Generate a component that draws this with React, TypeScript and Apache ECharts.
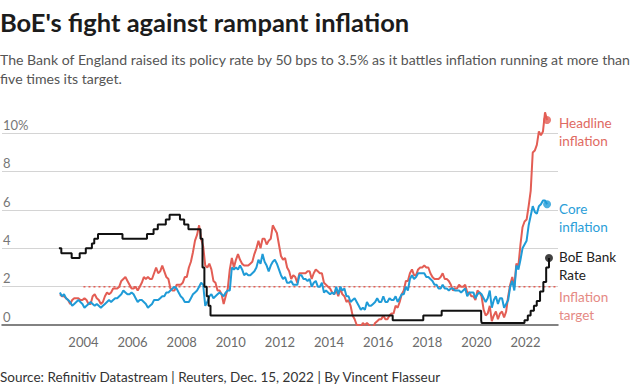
import React, { useEffect, useRef } from 'react';
import * as echarts from 'echarts';

// ---------- data ----------
const START_YEAR = 2003; // first monthly observation: Jan 2003

// Headline CPI inflation, % y/y, monthly Jan 2003 – Nov 2022
const headline = [
  1.6, 1.5, 1.5, 1.4, 1.3, 1.1, 1.3, 1.4, 1.4, 1.4, 1.3, 1.3,
  1.4, 1.3, 1.1, 1.1, 1.5, 1.6, 1.4, 1.3, 1.1, 1.2, 1.5, 1.7,
  1.6, 1.7, 1.9, 1.9, 1.9, 2.0, 2.3, 2.4, 2.5, 2.3, 2.1, 1.9,
  1.9, 2.0, 1.8, 2.0, 2.2, 2.5, 2.4, 2.5, 2.4, 2.4, 2.7, 3.0,
  2.7, 2.8, 3.1, 2.8, 2.5, 2.4, 1.9, 1.8, 1.8, 2.1, 2.1, 2.1,
  2.2, 2.5, 2.5, 3.0, 3.3, 3.8, 4.4, 4.7, 5.2, 4.5, 4.1, 3.1,
  3.0, 3.2, 2.9, 2.3, 2.2, 1.8, 1.8, 1.6, 1.1, 1.5, 1.9, 2.9,
  3.5, 3.0, 3.4, 3.7, 3.4, 3.2, 3.1, 3.1, 3.1, 3.2, 3.3, 3.7,
  4.0, 4.4, 4.0, 4.5, 4.5, 4.2, 4.4, 4.5, 5.2, 5.0, 4.8, 4.2,
  3.6, 3.4, 3.5, 3.0, 2.8, 2.4, 2.6, 2.5, 2.2, 2.7, 2.7, 2.7,
  2.7, 2.8, 2.8, 2.4, 2.7, 2.9, 2.8, 2.7, 2.7, 2.2, 2.1, 2.0,
  1.9, 1.7, 1.6, 1.8, 1.5, 1.9, 1.6, 1.5, 1.2, 1.3, 1.0, 0.5,
  0.3, 0.0, 0.0, -0.1, 0.1, 0.0, 0.1, 0.0, -0.1, -0.1, 0.1, 0.2,
  0.3, 0.3, 0.5, 0.3, 0.3, 0.5, 0.6, 0.6, 1.0, 0.9, 1.2, 1.6,
  1.8, 2.3, 2.3, 2.7, 2.9, 2.6, 2.6, 2.9, 3.0, 3.0, 3.1, 3.0,
  3.0, 2.7, 2.5, 2.4, 2.4, 2.4, 2.5, 2.7, 2.4, 2.4, 2.3, 2.1,
  1.8, 1.9, 1.9, 2.1, 2.0, 2.0, 2.1, 1.7, 1.7, 1.5, 1.5, 1.3,
  1.8, 1.7, 1.5, 0.8, 0.5, 0.6, 1.0, 0.2, 0.5, 0.7, 0.3, 0.6,
  0.7, 0.4, 0.7, 1.5, 2.1, 2.5, 2.0, 3.2, 3.1, 4.2, 5.1, 5.4,
  5.5, 6.2, 7.0, 9.0, 9.1, 9.4, 10.1, 9.9, 10.1, 11.1, 10.7,
];

// Core CPI inflation, % y/y, monthly Jan 2003 – Nov 2022
const core = [
  1.7, 1.5, 1.6, 1.4, 1.3, 1.2, 1.0, 1.1, 1.2, 1.3, 1.2, 1.1,
  0.9, 1.0, 1.1, 1.2, 1.1, 1.0, 1.1, 1.0, 0.9, 1.0, 1.1, 1.2,
  1.3, 1.2, 1.3, 1.4, 1.4, 1.5, 1.6, 1.8, 1.7, 1.6, 1.6, 1.7,
  1.6, 1.4, 1.2, 1.3, 1.3, 1.2, 1.1, 0.9, 1.0, 1.1, 1.3, 1.3,
  1.3, 1.4, 1.5, 1.5, 1.7, 1.7, 1.8, 1.9, 2.0, 1.9, 1.7, 1.5,
  1.4, 1.2, 1.2, 1.2, 1.4, 1.6, 1.7, 1.8, 2.0, 2.2, 2.1, 1.0,
  1.2, 1.5, 1.6, 1.4, 1.5, 1.6, 1.7, 1.6, 1.5, 1.7, 1.8, 1.8,
  3.0, 2.9, 3.0, 2.9, 3.1, 2.9, 2.6, 2.7, 2.6, 2.6, 2.7, 2.8,
  3.0, 3.4, 3.2, 3.7, 3.3, 3.1, 2.8, 3.1, 3.3, 3.4, 3.2, 2.9,
  2.6, 2.4, 2.5, 2.2, 2.2, 2.3, 2.1, 2.1, 2.1, 2.6, 2.6, 2.4,
  2.4, 2.3, 2.4, 2.0, 2.2, 2.3, 2.0, 2.0, 2.2, 1.7, 1.8, 1.7,
  1.6, 1.7, 1.6, 2.0, 1.6, 2.0, 1.8, 1.9, 1.5, 1.5, 1.2, 1.3,
  1.4, 1.2, 1.0, 0.8, 0.9, 0.8, 1.2, 1.0, 1.0, 1.1, 1.2, 1.4,
  1.2, 1.2, 1.5, 1.2, 1.2, 1.4, 1.3, 1.3, 1.5, 1.2, 1.4, 1.6,
  1.6, 2.0, 1.8, 2.4, 2.6, 2.4, 2.5, 2.7, 2.7, 2.7, 2.7, 2.5,
  2.5, 2.4, 2.3, 2.1, 2.1, 1.9, 1.9, 2.1, 1.9, 1.9, 1.8, 1.9,
  1.9, 1.8, 1.8, 1.8, 1.7, 1.8, 1.9, 1.5, 1.7, 1.7, 1.7, 1.4,
  1.6, 1.7, 1.6, 1.4, 1.2, 1.4, 1.8, 0.9, 1.3, 1.5, 1.1, 1.4,
  1.4, 0.9, 1.1, 1.3, 2.0, 2.3, 1.8, 3.1, 2.9, 3.4, 4.0, 4.2,
  4.4, 5.2, 5.7, 6.2, 5.9, 5.8, 6.2, 6.3, 6.5, 6.5, 6.3,
];

// BoE Bank Rate: dates of change and the new rate, %
const bankRateDates = [
  '2003-01-01', '2003-02-06', '2003-07-10', '2003-11-06', '2004-02-05', '2004-05-06',
  '2004-06-10', '2004-08-05', '2005-08-04', '2006-08-03', '2006-11-09', '2007-01-11',
  '2007-05-10', '2007-07-05', '2007-12-06', '2008-02-07', '2008-04-10', '2008-10-08',
  '2008-11-06', '2008-12-04', '2009-01-08', '2009-02-05', '2009-03-05', '2016-08-04',
  '2017-11-02', '2018-08-02', '2020-03-11', '2020-03-19', '2021-12-16', '2022-02-03',
  '2022-03-17', '2022-05-05', '2022-06-16', '2022-08-04', '2022-09-22', '2022-11-03',
  '2022-12-15',
];
const bankRates = [
  4.0, 3.75, 3.5, 3.75, 4.0, 4.25,
  4.5, 4.75, 4.5, 4.75, 5.0, 5.25,
  5.5, 5.75, 5.5, 5.25, 5.0, 4.5,
  3.0, 2.0, 1.5, 1.0, 0.5, 0.25,
  0.5, 0.75, 0.25, 0.1, 0.25, 0.5,
  0.75, 1.0, 1.25, 1.75, 2.25, 3.0,
  3.5,
];

const inflationTarget = 2;
const targetStartYear = 2004;

const xTickYears = [2004, 2006, 2008, 2010, 2012, 2014, 2016, 2018, 2020, 2022];
const yMin = 0;
const yMax = 12;
const yStep = 2;
const xMin = 2000.684;
const xMax = 2023.32;

// ---------- helpers ----------
const monthX = (i: number) => START_YEAR + (i + 0.5) / 12;
const dateX = (s: string) => {
  const d = new Date(s + 'T00:00:00Z');
  const y = d.getUTCFullYear();
  const a = Date.UTC(y, 0, 1);
  const b = Date.UTC(y + 1, 0, 1);
  return y + (d.getTime() - a) / (b - a);
};

const RED = '#e35d54';
const BLUE = '#1f9bd7';
const BLACK = '#111111';
const FONT = 'Lato, "Open Sans", sans-serif';

export default function App() {
  const ref = useRef<HTMLDivElement>(null);

  useEffect(() => {
    document.body.style.margin = '0';
    if (!ref.current) return;
    const chart = echarts.init(ref.current, undefined, { renderer: 'svg' });

    const headlineData = headline.map((v, i) => [monthX(i), v]);
    const coreData = core.map((v, i) => [monthX(i), v]);
    const bankData = bankRates.map((v, i) => [dateX(bankRateDates[i]), v]);

    const option: any = {
      animation: false,
      backgroundColor: '#ffffff',
      textStyle: { fontFamily: FONT },
      grid: { left: 0, right: 82, top: 95, bottom: 63, containLabel: false },
      xAxis: {
        type: 'value',
        min: xMin,
        max: xMax,
        axisLine: { show: true, onZero: true, lineStyle: { color: '#5a5a5a', width: 1.5 } },
        axisTick: { show: false },
        splitLine: { show: false },
        axisLabel: {
          customValues: xTickYears,
          formatter: (v: number) => String(Math.round(v)),
          color: '#6b6b6b',
          fontSize: 13,
          fontFamily: FONT,
          margin: 10,
        },
      },
      yAxis: {
        type: 'value',
        min: yMin,
        max: yMax,
        interval: yStep,
        axisLine: { show: false },
        axisTick: { show: false },
        splitLine: {
          show: true,
          showMinLine: false,
          showMaxLine: false,
          lineStyle: { color: '#d4d4d4', width: 1 },
        },
        axisLabel: {
          inside: true,
          margin: 1,
          verticalAlign: 'bottom',
          padding: [0, 0, 2, 0],
          color: '#777777',
          fontSize: 13,
          fontFamily: FONT,
          formatter: (v: number) => (v === 10 ? '10%' : v >= yMax ? '' : String(v)),
        },
      },
      series: [
        {
          name: 'Inflation target',
          type: 'line',
          data: [[targetStartYear, inflationTarget], [xMax, inflationTarget]],
          symbol: 'none',
          lineStyle: { color: RED, width: 1.5, type: [2, 3] },
          z: 1,
          silent: true,
        },
        {
          name: 'Headline inflation',
          type: 'line',
          data: headlineData,
          showSymbol: false,
          symbol: 'none',
          lineStyle: { color: RED, width: 2 },
          z: 2,
        },
        {
          name: 'Core inflation',
          type: 'line',
          data: coreData,
          showSymbol: false,
          symbol: 'none',
          lineStyle: { color: BLUE, width: 2 },
          z: 3,
        },
        {
          name: 'BoE Bank Rate',
          type: 'line',
          step: 'end',
          data: bankData,
          showSymbol: false,
          symbol: 'none',
          lineStyle: { color: BLACK, width: 2 },
          z: 4,
        },
        {
          name: 'ends',
          type: 'scatter',
          symbolSize: 8,
          z: 5,
          data: [
            { value: headlineData[headlineData.length - 1], itemStyle: { color: RED } },
            { value: coreData[coreData.length - 1], itemStyle: { color: BLUE } },
            { value: bankData[bankData.length - 1], itemStyle: { color: BLACK } },
          ],
        },
      ],
      graphic: [
        {
          type: 'text', x: 0, y: 22,
          style: { text: "BoE's fight against rampant inflation", font: `bold 25.5px ${FONT}`, fill: '#1c1c1c', verticalAlign: 'middle' },
        },
        {
          type: 'text', x: 0, y: 59,
          style: { text: 'The Bank of England raised its policy rate by 50 bps to 3.5% as it battles inflation running at more than', font: `14.1px ${FONT}`, fill: '#555555', verticalAlign: 'middle' },
        },
        {
          type: 'text', x: 0, y: 78,
          style: { text: 'five times its target.', font: `14.1px ${FONT}`, fill: '#555555', verticalAlign: 'middle' },
        },
        {
          type: 'text', x: 559, y: 132,
          style: { text: 'Headline\ninflation', font: `13.5px ${FONT}`, lineHeight: 18, fill: '#e06a62', verticalAlign: 'middle' },
        },
        {
          type: 'text', x: 559, y: 218,
          style: { text: 'Core\ninflation', font: `13.5px ${FONT}`, lineHeight: 18, fill: '#2a9ed8', verticalAlign: 'middle' },
        },
        {
          type: 'text', x: 559, y: 266,
          style: { text: 'BoE Bank\nRate', font: `13.5px ${FONT}`, lineHeight: 18, fill: '#222222', verticalAlign: 'middle' },
        },
        {
          type: 'text', x: 559, y: 306,
          style: { text: 'Inflation\ntarget', font: `13.5px ${FONT}`, lineHeight: 18, fill: '#e58a84', verticalAlign: 'middle' },
        },
        {
          type: 'text', x: 0, y: 377,
          style: { text: 'Source: Refinitiv Datastream | Reuters, Dec. 15, 2022 | By Vincent Flasseur', font: `13.5px ${FONT}`, fill: '#333333', verticalAlign: 'middle' },
        },
      ],
    };

    chart.setOption(option);
    return () => chart.dispose();
  }, []);

  return <div ref={ref} style={{ width: 640, height: 388 }} />;
}
